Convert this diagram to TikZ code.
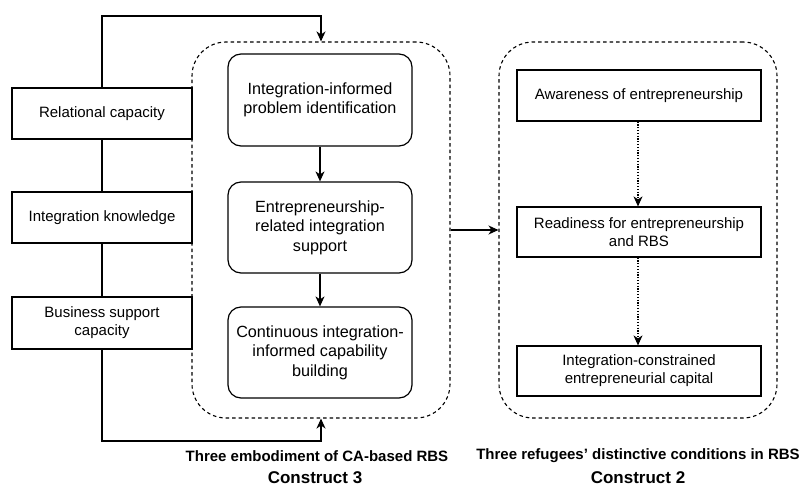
\documentclass[tikz,border=0pt]{standalone}
\usepackage{fontspec}
\setmainfont{Liberation Sans}
\usetikzlibrary{arrows.meta}
\begin{document}
\begin{tikzpicture}[x=1pt,y=-1pt,
  every node/.style={font=\fontsize{15}{18}\selectfont, inner sep=0pt, align=center},
  sqbox/.style={draw, line width=1.2pt, fill=white, rectangle},
  rbox/.style={draw, line width=1.2pt, fill=white, rectangle, rounded corners=13pt, font=\fontsize{16.2}{19.4}\selectfont},
  group/.style={draw, line width=1.1pt, dash pattern=on 3.5pt off 3pt, rounded corners=34pt, rectangle},
  link/.style={line width=1.2pt},
  arr/.style={line width=1.2pt, -{Stealth[length=10pt,width=9pt,inset=3pt]}},
  dotarr/.style={line width=1.1pt, dash pattern=on 1.2pt off 1.6pt, -{Stealth[length=10pt,width=9pt,inset=3pt,sep=0pt]}},
  caption/.style={font=\fontsize{15}{18}\bfseries\selectfont},
  title/.style={font=\fontsize{17}{20}\bfseries\selectfont}]
\useasboundingbox (0,0) rectangle (803,486);

% dashed groups
\node[group, minimum width=258pt, minimum height=376pt] (c3) at (321,230) {};
\node[group, minimum width=278pt, minimum height=376pt] (c2) at (638,230) {};

% connector corners around the capacity column
\coordinate (topL) at (102,16);
\coordinate (topR) at (321,16);
\coordinate (botL) at (102,441);
\coordinate (botR) at (321,441);

% capacities
\node[sqbox, minimum width=180pt, minimum height=51pt] (rel) at (102,113.5) {Relational capacity};
\node[sqbox, minimum width=180pt, minimum height=51pt] (know) at (102,217.5) {Integration knowledge};
\node[sqbox, minimum width=180pt, minimum height=52pt] (bus) at (102,323) {Business support\\capacity};

\draw[link] (rel.south) -- (know.north);
\draw[link] (know.south) -- (bus.north);
\draw[arr] (rel.north) -- (topL) -- (topR) -- (c3.north);
\draw[arr] (bus.south) -- (botL) -- (botR) -- (c3.south);

% embodiments of CA-based RBS
\node[rbox, minimum width=184pt, minimum height=92pt] (e1) at (320,100) {Integration-informed\\problem identification};
\node[rbox, minimum width=184pt, minimum height=91pt] (e2) at (320,227.5) {Entrepreneurship-\\related integration\\support};
\node[rbox, minimum width=184pt, minimum height=91pt] (e3) at (320,352.5) {Continuous integration-\\informed capability\\building};
\draw[arr] (e1.south) -- (e2.north);
\draw[arr] (e2.south) -- (e3.north);

% refugees' distinctive conditions
\node[sqbox, minimum width=244pt, minimum height=51pt] (r1) at (639,95.5) {Awareness of entrepreneurship};
\node[sqbox, minimum width=244pt, minimum height=50pt] (r2) at (639,232) {Readiness for entrepreneurship\\and RBS};
\node[sqbox, minimum width=244pt, minimum height=50pt] (r3) at (639,371) {Integration-constrained\\entrepreneurial capital};
\draw[dotarr] (r1.south -| 638,0) -- (r2.north -| 638,0);
\draw[dotarr] (r2.south -| 638,0) -- (r3.north -| 638,0);

% link between the two groups
\draw[arr] (c3.east) -- (c2.west);

% captions
\node[caption] (cap3) at (317,456) {Three embodiment of CA-based RBS};
\node[title] (con3) at (315,478) {Construct 3};
\node[caption] (cap2) at (638,456) {Three refugees\char"0027\ distinctive conditions in RBS};
\node[title] (con2) at (638,478) {Construct 2};
\end{tikzpicture}
\end{document}
